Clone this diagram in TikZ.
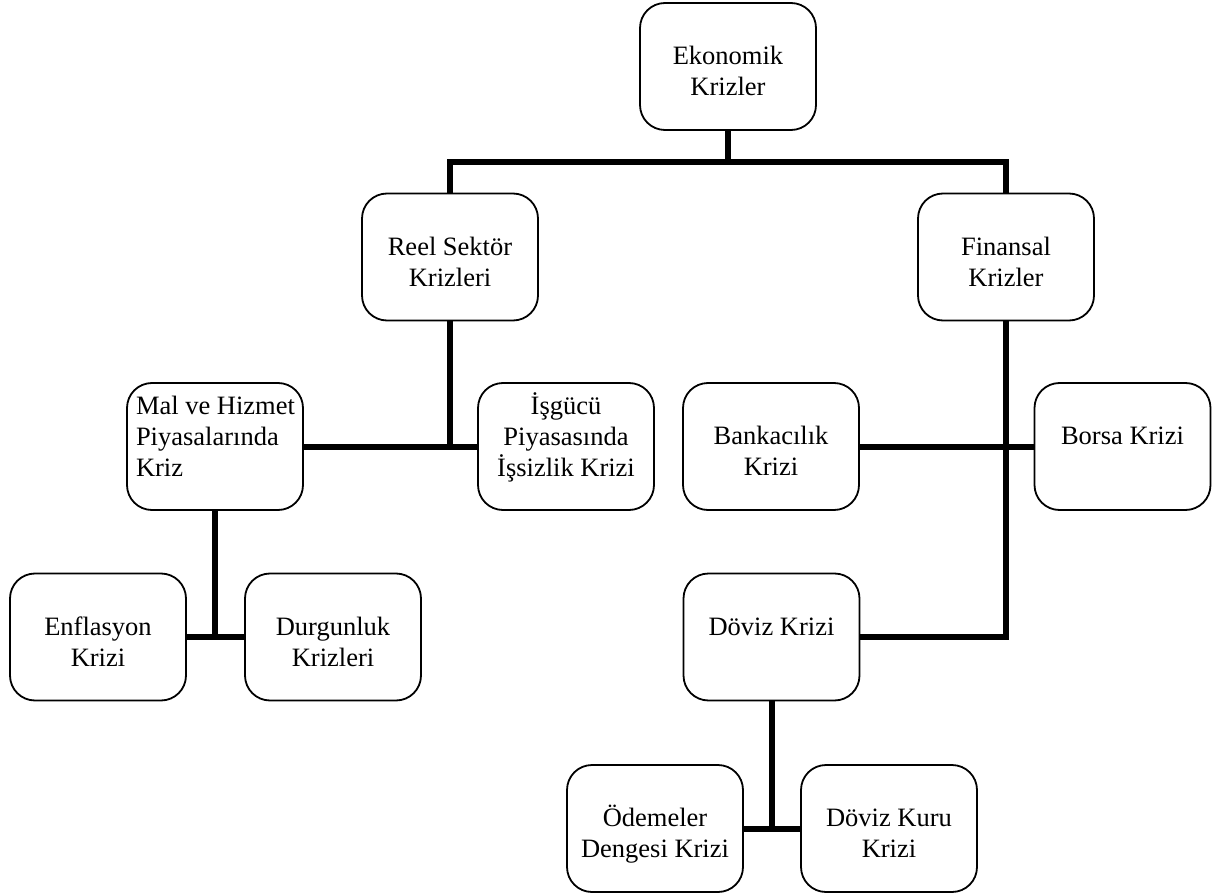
\documentclass[tikz,border=0pt]{standalone}
\usepackage{fontspec}
\setmainfont{Liberation Serif}
\tikzset{
  box/.style={draw, line width=1.8pt, rounded corners=25pt, fill=white, inner sep=0pt, outer sep=0pt},
  conn/.style={line width=6pt},
}
\newcommand{\bt}[2]{\parbox[c][127pt][t]{176pt}{\centering\fontsize{26.5}{31}\selectfont\vspace*{#1}\strut #2}}
\newcommand{\btl}[2]{\parbox[c][127pt][t]{176pt}{\raggedright\leftskip=9pt\fontsize{26.5}{31}\selectfont\vspace*{#1}\strut #2}}
\begin{document}
\begin{tikzpicture}[x=1pt,y=-1pt]
\useasboundingbox (0,0) rectangle (1216,896);
\node[box] (eko) at (728,66.5) {\bt{40pt}{Ekonomik\\Krizler}};
\node[box] (reel) at (450,257) {\bt{40pt}{Reel Sektör\\Krizleri}};
\node[box] (fin) at (1006,257) {\bt{40pt}{Finansal\\Krizler}};
\node[box] (mal) at (215,446.5) {\btl{10pt}{Mal ve Hizmet\\Piyasalarında\\Kriz}};
\node[box] (isg) at (566,446.5) {\bt{10pt}{İşgücü\\Piyasasında\\İşsizlik Krizi}};
\node[box] (bank) at (771,446.5) {\bt{40pt}{Bankacılık\\Krizi}};
\node[box] (borsa) at (1122.5,446.5) {\bt{40pt}{Borsa Krizi}};
\node[box] (enf) at (98,637) {\bt{40pt}{Enflasyon\\Krizi}};
\node[box] (durg) at (333,637) {\bt{40pt}{Durgunluk\\Krizleri}};
\node[box] (dov) at (771.5,637) {\bt{40pt}{Döviz Krizi}};
\node[box] (ode) at (655,828.5) {\bt{40pt}{Ödemeler\\Dengesi Krizi}};
\node[box] (dkuru) at (889,828.5) {\bt{40pt}{Döviz Kuru\\Krizi}};
\coordinate (bus) at (728,162);
\draw[conn] (eko.south) -- (bus);
\draw[conn] (reel.north) |- (bus) -| (fin.north);
\draw[conn] (reel.south) -- (reel.south |- mal.east);
\draw[conn] (mal.east) -- (isg.west);
\draw[conn] (fin.south) |- (dov.east);
\draw[conn] (bank.east) -- (borsa.west);
\draw[conn] (mal.south) -- (mal.south |- enf.east);
\draw[conn] (enf.east) -- (durg.west);
\draw[conn] (dov.south) -- (dov.south |- ode.east);
\draw[conn] (ode.east) -- (dkuru.west);
\end{tikzpicture}
\end{document}
